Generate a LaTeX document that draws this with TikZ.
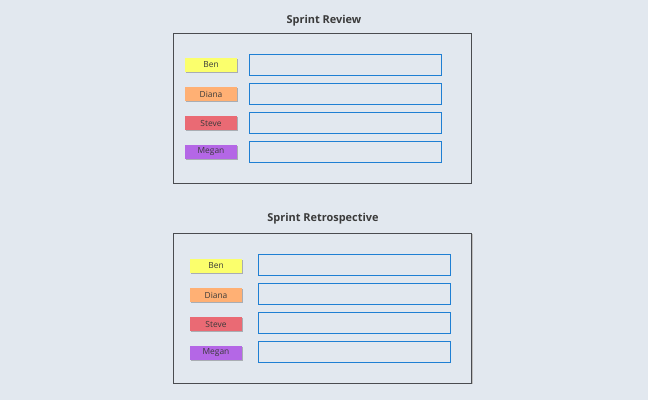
\documentclass[tikz,border=0pt]{standalone}
\usepackage{fontspec}
\setmainfont{Open Sans}
\usetikzlibrary{shadows}
\definecolor{boardbg}{HTML}{E2E8EF}
\definecolor{framegray}{HTML}{4A4C50}
\definecolor{fieldblue}{HTML}{1F7FD3}
\definecolor{notetext}{HTML}{3A3A3A}
\definecolor{noteyellow}{HTML}{FBFF6C}
\definecolor{noteorange}{HTML}{FFB074}
\definecolor{notered}{HTML}{EA6A74}
\definecolor{notepurple}{HTML}{B467E6}

\tikzset{
  panel/.style={draw=framegray, line width=0.65pt, fill=boardbg,
    minimum width=223.5pt, minimum height=112.5pt, inner sep=0pt,
    drop shadow={shadow xshift=0.8pt, shadow yshift=-0.8pt, fill=black!25, opacity=1}},
  paneltitle/.style={font=\fontsize{8.2}{10}\selectfont\bfseries, text=notetext},
  note/.style={minimum width=39pt, minimum height=10.5pt, inner sep=0pt,
    font=\fontsize{6.3}{7.5}\selectfont, text=notetext,
    drop shadow={shadow xshift=0.6pt, shadow yshift=-0.6pt, fill=black, opacity=0.25}},
  field/.style={draw=fieldblue, line width=0.8pt,
    minimum width=144pt, minimum height=15.75pt, inner sep=0pt}
}

\begin{document}
\begin{tikzpicture}[x=0.75pt, y=-0.75pt]

  % page
  \fill[boardbg] (0,0) rectangle (648,400);
  \useasboundingbox (0,0) rectangle (648,400);

  % sprint review
  \node[panel] (review) at (322,108) {};
  \node[paneltitle] (reviewtitle) at (324,21) {Sprint Review};

  \node[note, fill=noteyellow] (reviewben)   at (211,65)  {Ben};
  \node[note, fill=noteorange] (reviewdiana) at (211,94)  {Diana};
  \node[note, fill=notered]    (reviewsteve) at (211,123) {Steve};
  \node[note, fill=notepurple] (reviewmegan) at (211,152) {Megan};

  \node[field] (reviewbenfield)   at (345.5,65)  {};
  \node[field] (reviewdianafield) at (345.5,94)  {};
  \node[field] (reviewstevefield) at (345.5,123) {};
  \node[field] (reviewmeganfield) at (345.5,152) {};

  % sprint retrospective
  \node[panel] (retro) at (322.5,308) {};
  \node[paneltitle] (retrotitle) at (323,219) {Sprint Retrospective};

  \node[note, fill=noteyellow] (retroben)   at (216,266) {Ben};
  \node[note, fill=noteorange] (retrodiana) at (216,295) {Diana};
  \node[note, fill=notered]    (retrosteve) at (216,324) {Steve};
  \node[note, fill=notepurple] (retromegan) at (216,353) {Megan};

  \node[field] (retrobenfield)   at (354.5,265) {};
  \node[field] (retrodianafield) at (354.5,294) {};
  \node[field] (retrostevefield) at (354.5,323) {};
  \node[field] (retromeganfield) at (354.5,352) {};
\end{tikzpicture}
\end{document}
